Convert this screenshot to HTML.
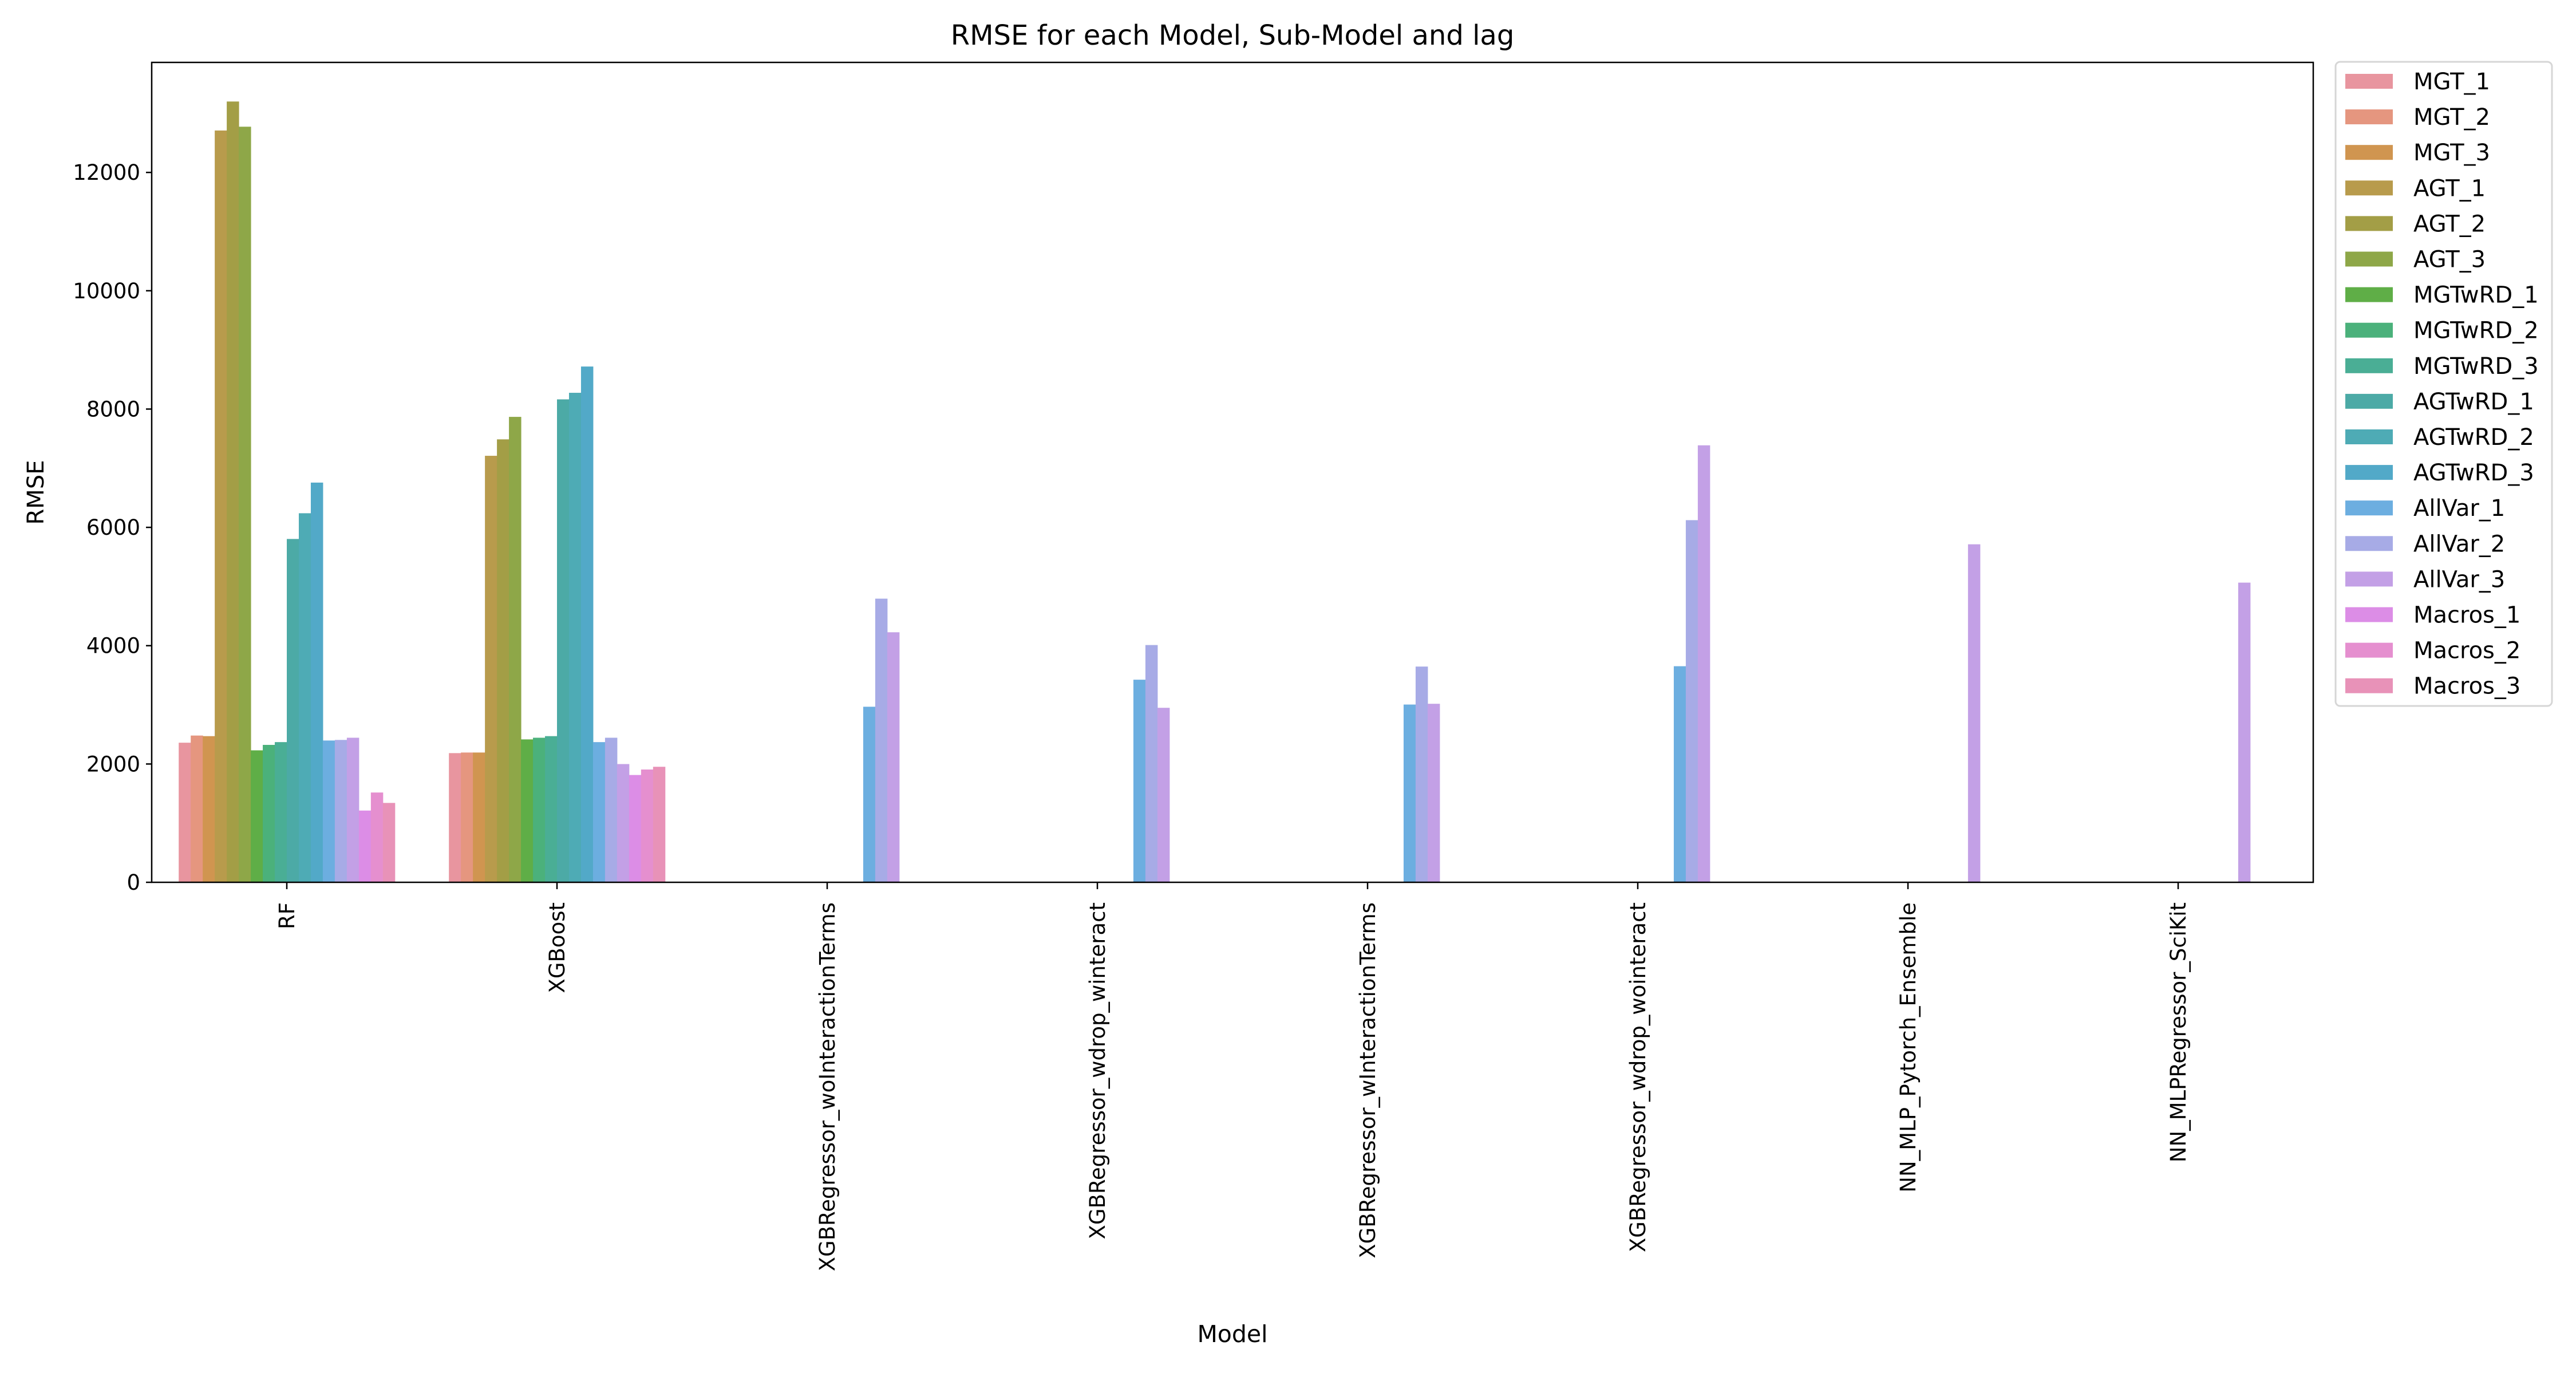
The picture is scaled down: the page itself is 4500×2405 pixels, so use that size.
<!DOCTYPE html>
<html><head><meta charset="utf-8"><style>
body{margin:0;background:#fff}
svg text{font-family:"DejaVu Sans","Liberation Sans",sans-serif;fill:#000}
</style></head><body>
<svg id="chart" width="4500" height="2400" xmlns="http://www.w3.org/2000/svg">
<rect width="4500" height="2400" fill="#fff"/>
<text x="2153" y="78" font-size="48" text-anchor="middle">RMSE for each Model, Sub-Model and lag</text>
<text transform="translate(76,860) rotate(-90)" font-size="40" text-anchor="middle">RMSE</text>
<text x="2153" y="2344" font-size="41" text-anchor="middle">Model</text>
<g id="bars"></g><g id="axes"></g><g id="legend"></g>
</svg>
<script>
const categories=["RF","XGBoost","XGBRegressor_woInteractionTerms","XGBRegressor_wdrop_winteract","XGBRegressor_wInteractionTerms","XGBRegressor_wdrop_wointeract","NN_MLP_Pytorch_Ensemble","NN_MLPRegressor_SciKit"];
const series=["MGT_1","MGT_2","MGT_3","AGT_1","AGT_2","AGT_3","MGTwRD_1","MGTwRD_2","MGTwRD_3","AGTwRD_1","AGTwRD_2","AGTwRD_3","AllVar_1","AllVar_2","AllVar_3","Macros_1","Macros_2","Macros_3"];
const colors=["#e8959f","#e5967f","#d09550","#b89b4c","#a39e46","#8ea748","#5fae47","#4bb17b","#4aae95","#4caaa6","#4eabb5","#52a9c8","#6caee0","#a7abe6","#c3a0e6","#dc8de6","#e58fcf","#e892b8"];
const rfValues=[2360,2481,2471,12709,13199,12773,2231,2323,2370,5804,6239,6757,2397,2407,2444,1213,1518,1342];
const xgbValues=[2184,2194,2194,7210,7488,7868,2416,2444,2471,8164,8275,8719,2370,2444,1999,1814,1907,1953];
const allVar1=[null,null,2968,3425,3005,3653,null,null];
const allVar2=[null,null,4795,4011,3647,6122,null,null];
const allVar3=[null,null,4227,2950,3018,7387,5714,5066];
const yTicks=[0,2000,4000,6000,8000,10000,12000];

const NS="http://www.w3.org/2000/svg";
const L=265,R=4041,T=109,B=1541,YMAX=13860;
const catW=(R-L)/categories.length, barW=catW*0.8/series.length;
function yS(v){return B-(v/YMAX)*(B-T);}
function xS(ci,si){return L+catW*ci+catW*0.1+si*barW;}
function mk(tag,attrs,parent){const e=document.createElementNS(NS,tag);for(const k in attrs)e.setAttribute(k,attrs[k]);parent.appendChild(e);return e;}
const bars=document.getElementById('bars');
function val(ci,si){
  if(ci===0)return rfValues[si];
  if(ci===1)return xgbValues[si];
  if(si===12)return allVar1[ci];
  if(si===13)return allVar2[ci];
  if(si===14)return allVar3[ci];
  return null;
}
for(let ci=0;ci<categories.length;ci++){
  for(let si=0;si<series.length;si++){
    const v=val(ci,si); if(v==null)continue;
    const r=mk('rect',{x:xS(ci,si),y:yS(v),width:barW+0.5,height:B-yS(v),fill:colors[si]},bars);
    
    
  }
}
const axes=document.getElementById('axes');
const frame=mk('rect',{x:L,y:T,width:R-L,height:B-T,fill:'none',stroke:'#000','stroke-width':2.5},axes);


for(const t of yTicks){
  const y=yS(t);
  mk('line',{x1:L-10,x2:L,y1:y,y2:y,stroke:'#000','stroke-width':2.5},axes);
  const tx=mk('text',{x:L-20,y:y+13,'font-size':37,'text-anchor':'end'},axes);
  tx.textContent=t;
  
  
}
categories.forEach((c,ci)=>{
  const x=L+catW*(ci+0.5);
  mk('line',{x1:x,x2:x,y1:B,y2:B+12,stroke:'#000','stroke-width':2.5},axes);
  const tx=mk('text',{transform:`translate(${x+13},1576) rotate(-90)`,'font-size':37,'text-anchor':'end'},axes);
  tx.textContent=c;
  
  
});
const lg=document.getElementById('legend');
const box=mk('rect',{x:4080,y:108,width:378,height:1125,rx:8,fill:'#fff',stroke:'#d6d6d6','stroke-width':3},lg);


series.forEach((s,si)=>{
  const cy=142+si*62.1;
  const p=mk('rect',{x:4097,y:cy-13,width:83,height:26,fill:colors[si]},lg);
  
  
  const t=mk('text',{x:4216,y:cy+14,'font-size':40},lg);
  t.textContent=s;
  
  
});
</script>
</body></html>
